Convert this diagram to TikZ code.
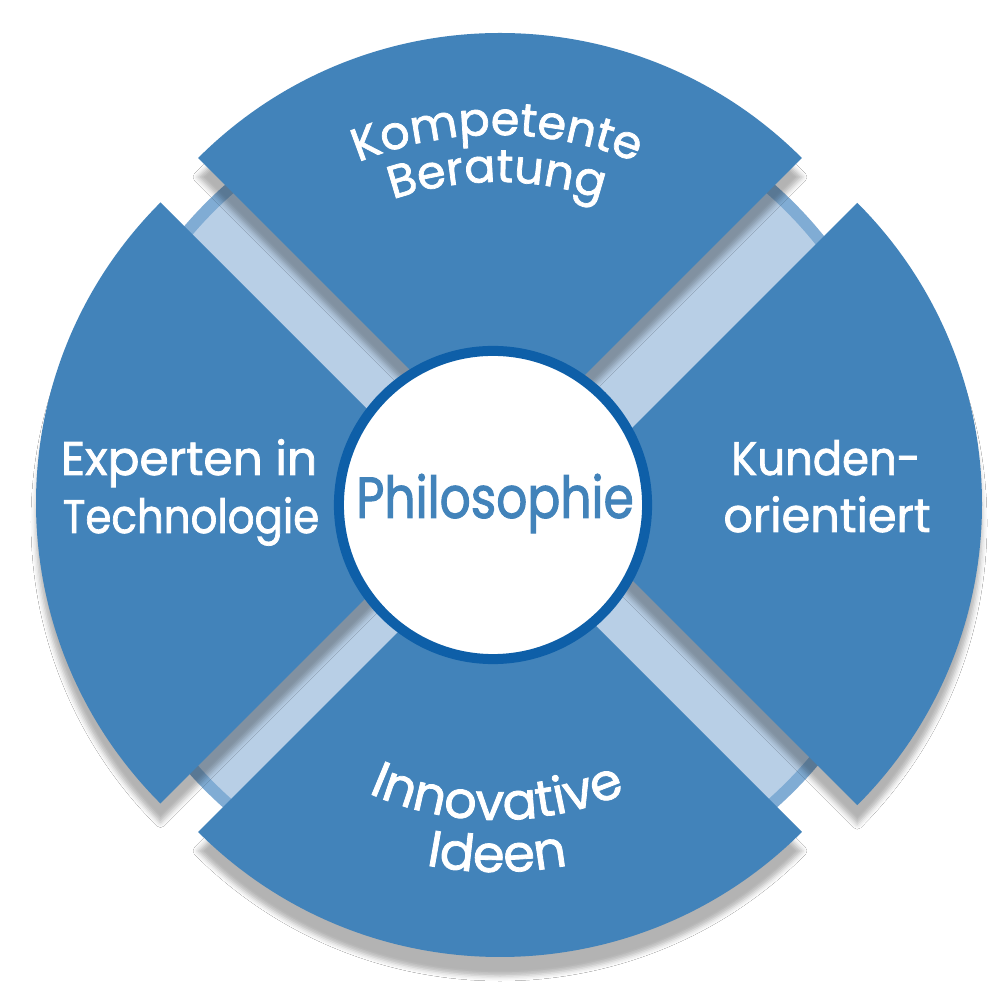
\documentclass[tikz,border=0pt]{standalone}
\usepackage{fontspec}
\setmainfont{Poppins}[FakeBold=1.6]
\newfontfamily\philfont[FakeStretch=0.84,FakeBold=1.6]{Poppins}
\usetikzlibrary{decorations.text,shadows.blur}
\definecolor{secblue}{RGB}{66,131,186}
\definecolor{bandblue}{RGB}{184,207,230}
\definecolor{ringblue}{RGB}{128,172,212}
\definecolor{rimblue}{RGB}{14,95,168}
\begin{document}
\begin{tikzpicture}[x=0.01cm,y=0.01cm,
  sector/.style={fill=secblue, blur shadow={shadow xshift=0pt, shadow yshift=-0.19cm, shadow blur radius=0.05cm, shadow opacity=30}},
  sidelbl/.style={text=white, font=\fontsize{13.4}{16}\selectfont, anchor=base, inner sep=0pt},
  arctext/.style={decorate, decoration={text along path, text align=center, text={#1}}}]
\useasboundingbox (0,0) rectangle (1000,1000);
\fill[white] (0,0) rectangle (1000,1000);
% background disc (bands)
\coordinate (bgc) at (500,503);
\fill[ringblue] (bgc) circle[radius=416];
\fill[bandblue] (bgc) circle[radius=404];
% sectors
\coordinate (topapex) at (500,540);
\coordinate (leftapex) at (461,497);
\coordinate (rightapex) at (556,496);
\coordinate (botapex) at (500,470);
\path[sector] (topapex) -- ++(45:427) arc[start angle=45,end angle=135,radius=427] -- cycle;
\path[sector] (leftapex) -- ++(135:425) arc[start angle=135,end angle=225,radius=425] -- cycle;
\path[sector] (rightapex) -- ++(-45:426) arc[start angle=-45,end angle=45,radius=426] -- cycle;
\path[sector] (botapex) -- ++(225:427) arc[start angle=225,end angle=315,radius=427] -- cycle;
% centre disc
\node (hub) [circle, fill=white, draw=rimblue, line width=0.1cm, minimum size=3.08cm, inner sep=0pt] at (493,495) {};
\node (philo) [anchor=base, inner sep=0pt, text=secblue, font=\philfont\fontsize{16.5}{20}\selectfont] at (495,482) {Philosophie};
% side labels
\node (left1) [sidelbl] at (189,525) {Experten in};
\node (left2) [sidelbl] at (191,467) {\scalebox{0.89}[1]{Technologie}};
\node (right1) [sidelbl] at (826,525) {\scalebox{0.92}[1]{Kunden-}};
\node (right2) [sidelbl] at (827,468) {\scalebox{0.98}[1]{orientiert}};
% curved labels
\coordinate (tc) at (497,500);
\path[arctext={|\color{white}\fontsize{13.1}{16}\selectfont|Kompetente}] (tc) ++(135:365) arc[start angle=135,end angle=45,radius=365];
\path[arctext={|\color{white}\fontsize{13.1}{16}\selectfont|Beratung}] (tc) ++(135:318) arc[start angle=135,end angle=45,radius=318];
\path[arctext={|\color{white}\fontsize{14.5}{17}\selectfont|Innovative}] (tc) ++(225:320) arc[start angle=225,end angle=315,radius=320];
\path[arctext={|\color{white}\fontsize{14.5}{17}\selectfont|Ideen}] (tc) ++(225:372) arc[start angle=225,end angle=315,radius=372];
\end{tikzpicture}
\end{document}
